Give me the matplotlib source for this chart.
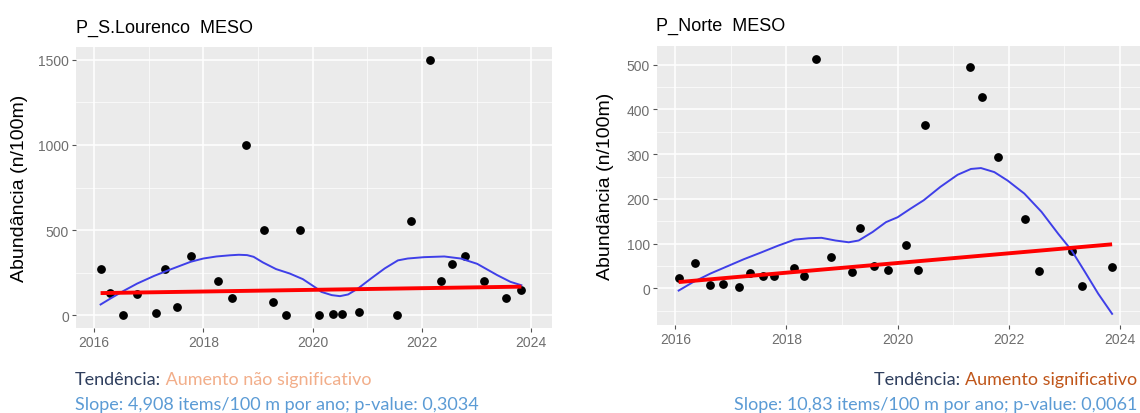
import numpy as np
import matplotlib.pyplot as plt
from matplotlib.ticker import MultipleLocator

W, H = 1140, 414

# P_S.Lourenco MESO
sl_x = [2016.12, 2016.29, 2016.53, 2016.79, 2017.13, 2017.29, 2017.52, 2017.77,
        2018.27, 2018.52, 2018.78, 2019.11, 2019.27, 2019.52, 2019.77, 2020.12,
        2020.38, 2020.54, 2020.84, 2021.54, 2021.80, 2022.15, 2022.35, 2022.55,
        2022.78, 2023.13, 2023.54, 2023.82]
sl_y = [270, 133, 0, 125, 16, 270, 50, 350,
        200, 100, 1000, 500, 76, 0, 500, 0,
        8, 8, 20, 0, 551, 1500, 200, 300,
        350, 200, 100, 149]
sl_smooth_x = [2016.12, 2016.30, 2016.53, 2016.79, 2017.10, 2017.40, 2017.77, 2018.00,
               2018.24, 2018.49, 2018.65, 2018.80, 2018.92, 2019.09, 2019.33, 2019.58,
               2019.82, 2020.06, 2020.16, 2020.35, 2020.50, 2020.65, 2020.83, 2021.07,
               2021.32, 2021.56, 2021.74, 2022.04, 2022.41, 2022.71, 2023.01, 2023.38,
               2023.62, 2023.82]
sl_smooth_y = [63, 98, 141, 186, 231, 269, 314, 333,
               345, 352, 355, 353, 343, 310, 271, 245,
               212, 161, 137, 118, 112, 122, 157, 216,
               275, 322, 333, 341, 345, 333, 302, 235,
               196, 176]
sl_trend = (130, 4.908)  # valor inicial, declive por ano

# P_Norte MESO
pn_x = [2016.06, 2016.35, 2016.63, 2016.85, 2017.15, 2017.35, 2017.58, 2017.78,
        2018.13, 2018.32, 2018.54, 2018.81, 2019.18, 2019.32, 2019.57, 2019.83,
        2020.15, 2020.37, 2020.49, 2021.30, 2021.52, 2021.81, 2022.30, 2022.54,
        2023.13, 2023.31, 2023.86]
pn_y = [23, 56, 7, 10, 2, 35, 28, 28,
        46, 28, 514, 71, 36, 136, 51, 42,
        98, 40, 365, 494, 427, 293, 154, 39,
        84, 5, 47]
pn_smooth_x = [2016.06, 2016.32, 2016.63, 2016.93, 2017.23, 2017.54, 2017.84, 2018.15,
               2018.40, 2018.63, 2018.88, 2019.12, 2019.30, 2019.55, 2019.79, 2020.00,
               2020.23, 2020.47, 2020.77, 2021.08, 2021.32, 2021.50, 2021.74, 2021.98,
               2022.28, 2022.59, 2022.89, 2023.13, 2023.37, 2023.61, 2023.86]
pn_smooth_y = [-5, 14, 33, 49, 65, 80, 95, 109,
               112, 113, 107, 103, 107, 126, 148, 159,
               178, 197, 227, 254, 267, 269, 260, 241,
               212, 171, 122, 85, 37, -12, -57]
pn_trend = (14, 10.83)

x_ticks = [2016, 2018, 2020, 2022, 2024]
y_label = "Abundância (n/100m)"


def px_axes(fig, left, top, right, bottom):
    return fig.add_axes([left / W, 1 - bottom / H, (right - left) / W, (bottom - top) / H])


def gg_panel(ax, x, y, sx, sy, trend, ylim, major, minor):
    ax.set_facecolor('#EBEBEB')
    for s in ax.spines.values():
        s.set_visible(False)
    ax.set_xlim(2015.67, 2024.38)
    ax.set_ylim(*ylim)
    ax.set_xticks(x_ticks)
    ax.xaxis.set_minor_locator(MultipleLocator(1))
    ax.yaxis.set_major_locator(MultipleLocator(major))
    ax.yaxis.set_minor_locator(MultipleLocator(minor))
    ax.grid(which='major', color='white', lw=1.1)
    ax.grid(which='minor', color='white', lw=0.5)
    ax.set_axisbelow(True)
    ax.tick_params(which='major', length=3, width=0.8, color='#555555',
                   labelcolor='#6E6E6E', labelsize=10, pad=2)
    ax.tick_params(which='minor', length=0)
    ax.set_ylabel(y_label, fontsize=14, color='black')

    ax.scatter(x, y, s=28, color='black', zorder=3)
    ax.plot(sx, sy, color='#3F3FE8', lw=1.4, zorder=4, solid_joinstyle='round')
    tx = np.array([min(x), max(x)])
    ty = trend[0] + trend[1] * (tx - tx[0])
    ax.plot(tx, ty, color='#FF0000', lw=2.8, zorder=5, solid_capstyle='butt')


plt.rcParams['font.family'] = ['Liberation Sans', 'DejaVu Sans']
fig = plt.figure(figsize=(W / 100, H / 100), dpi=100)
fig.patch.set_facecolor('white')

ax1 = px_axes(fig, 76, 48, 552, 329)
gg_panel(ax1, sl_x, sl_y, sl_smooth_x, sl_smooth_y, sl_trend, (-75, 1575), 500, 250)
ax1.yaxis.set_label_coords(-0.10, 0.5)

ax2 = px_axes(fig, 657, 47, 1141, 326)
gg_panel(ax2, pn_x, pn_y, pn_smooth_x, pn_smooth_y, pn_trend, (-82, 542), 100, 50)
ax2.yaxis.set_label_coords(-0.088, 0.5)

fig.text(76 / W, 1 - 28 / H, "P_S.Lourenco  MESO", fontsize=13, va='center', ha='left')
fig.text(656 / W, 1 - 26 / H, "P_Norte  MESO", fontsize=13, va='center', ha='left')

# legenda por baixo
bfont = ['Lato', 'DejaVu Sans']
bsize = 13
navy = '#2F3F5E'
t1 = fig.text(75 / W, 1 - 380 / H, "Tendência:", fontsize=bsize, family=bfont,
              color=navy, va='center', ha='left')
ax1.annotate(" Aumento não significativo", xy=(1, 0), xycoords=t1, va='bottom', ha='left',
             fontsize=bsize, family=bfont, color='#F2AE8A', annotation_clip=False)
fig.text(75 / W, 1 - 405 / H, "Slope: 4,908 items/100 m por ano; p-value: 0,3034",
         fontsize=bsize, family=bfont, color='#5B9BD5', va='center', ha='left')

t2 = fig.text(1137 / W, 1 - 380 / H, "Aumento significativo", fontsize=bsize, family=bfont,
              color='#C0561A', va='center', ha='right')
ax2.annotate("Tendência: ", xy=(0, 0), xycoords=t2, va='bottom', ha='right',
             fontsize=bsize, family=bfont, color=navy, annotation_clip=False)
fig.text(1137 / W, 1 - 405 / H, "Slope: 10,83 items/100 m por ano; p-value: 0,0061",
         fontsize=bsize, family=bfont, color='#5B9BD5', va='center', ha='right')

fig.savefig('out.png', dpi=100, facecolor='white')
